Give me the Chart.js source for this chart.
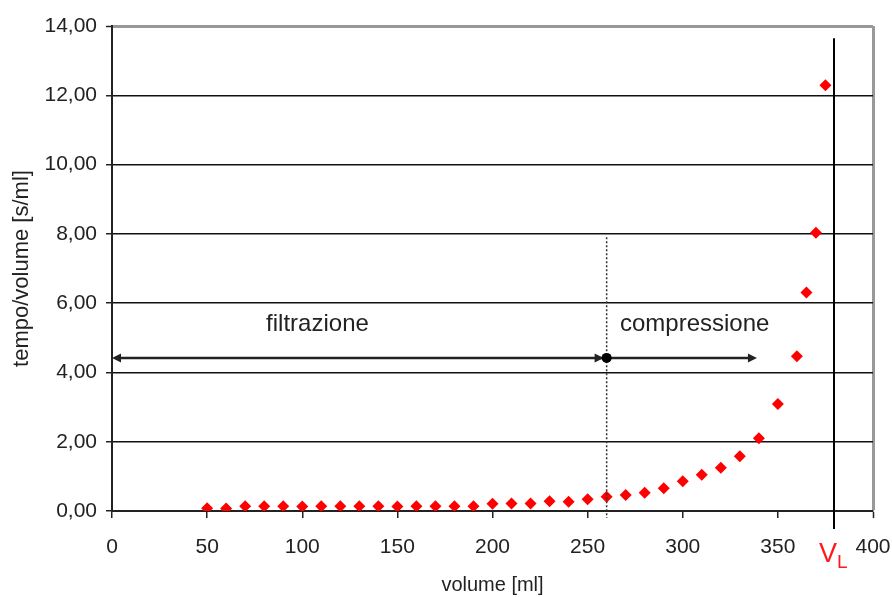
<!DOCTYPE html>
<html>
<head>
<meta charset="utf-8">
<script src="https://cdn.jsdelivr.net/npm/chart.js@4.4.1/dist/chart.umd.min.js"></script>
<style>
  html, body { margin: 0; padding: 0; background: #fff; }
  canvas { display: block; }
</style>
</head>
<body>
<canvas id="graph" width="892" height="597"></canvas>
<script>
// volume [ml] and tempo/volume [s/ml]
var volumes = [50, 60, 70, 80, 90, 100, 110, 120, 130, 140, 150, 160, 170, 180, 190,
               200, 210, 220, 230, 240, 250, 260, 270, 280, 290, 300, 310, 320, 330,
               340, 350, 360, 365, 370, 375];
var tempoVolume = [0.08, 0.07, 0.14, 0.14, 0.14, 0.13, 0.14, 0.14, 0.14, 0.14, 0.13, 0.14, 0.14, 0.14, 0.14,
                   0.21, 0.22, 0.22, 0.28, 0.27, 0.34, 0.41, 0.46, 0.53, 0.66, 0.86, 1.05, 1.25, 1.58,
                   2.10, 3.09, 4.47, 6.31, 8.03, 12.29];

var xTicks = [0, 50, 100, 150, 200, 250, 300, 350, 400];
var yTicks = [0, 2, 4, 6, 8, 10, 12, 14];
var yTickLabels = ['0,00', '2,00', '4,00', '6,00', '8,00', '10,00', '12,00', '14,00'];

// annotations (data units)
var limitVolume = 379.5;      // V_L
var limitTop = 13.65;
var phaseBoundary = 260;
var boundaryTop = 7.9;
var arrowLevel = 4.42;
var compressionEnd = 339;
var phaseNames = ['filtrazione', 'compressione'];
var phaseLabelX = [108, 267];
var phaseLabelY = 5.2;

var FONT = '"Liberation Sans", Arial, sans-serif';
var INK = '#222';

function arrowHead(ctx, x, y, dir) {
  ctx.beginPath();
  ctx.moveTo(x, y);
  ctx.lineTo(x - dir * 9, y - 4.5);
  ctx.lineTo(x - dir * 9, y + 4.5);
  ctx.closePath();
  ctx.fill();
}

var phaseMarks = {
  id: 'phaseMarks',
  afterDatasetsDraw: function (chart) {
    var ctx = chart.ctx;
    var xs = chart.scales.x, ys = chart.scales.y;
    ctx.save();

    // V_L line
    var vx = xs.getPixelForValue(limitVolume);
    ctx.strokeStyle = '#000';
    ctx.lineWidth = 2;
    ctx.beginPath();
    ctx.moveTo(vx, ys.getPixelForValue(limitTop));
    ctx.lineTo(vx, xs.top + 18);
    ctx.stroke();

    // dotted boundary
    var bx = xs.getPixelForValue(phaseBoundary);
    ctx.lineWidth = 1.5;
    ctx.strokeStyle = '#333';
    ctx.setLineDash([2, 2]);
    ctx.beginPath();
    ctx.moveTo(bx, ys.getPixelForValue(boundaryTop));
    ctx.lineTo(bx, xs.top + 7);
    ctx.stroke();
    ctx.setLineDash([]);

    // arrows
    var ay = ys.getPixelForValue(arrowLevel);
    var x0 = xs.getPixelForValue(0);
    var x2 = xs.getPixelForValue(compressionEnd);
    ctx.strokeStyle = INK;
    ctx.fillStyle = INK;
    ctx.lineWidth = 2.5;
    ctx.beginPath();
    ctx.moveTo(x0 + 4, ay);
    ctx.lineTo(x2 - 4, ay);
    ctx.stroke();
    arrowHead(ctx, x0, ay, -1);
    arrowHead(ctx, bx - 3, ay, 1);
    arrowHead(ctx, x2, ay, 1);
    ctx.fillStyle = '#000';
    ctx.beginPath();
    ctx.arc(bx, ay, 5, 0, Math.PI * 2);
    ctx.fill();

    // phase labels
    ctx.fillStyle = INK;
    ctx.font = '24px ' + FONT;
    ctx.textBaseline = 'alphabetic';
    ctx.textAlign = 'center';
    ctx.fillText(phaseNames[0], xs.getPixelForValue(phaseLabelX[0]), ys.getPixelForValue(phaseLabelY));
    ctx.textAlign = 'left';
    ctx.fillText(phaseNames[1], xs.getPixelForValue(phaseLabelX[1]), ys.getPixelForValue(phaseLabelY));

    // V_L label
    ctx.fillStyle = '#ff1a1a';
    ctx.font = '27px ' + FONT;
    ctx.textAlign = 'right';
    ctx.fillText('V', vx + 3, xs.top + 51);
    ctx.font = '19px ' + FONT;
    ctx.textAlign = 'left';
    ctx.fillText('L', vx + 3, xs.top + 57);

    ctx.restore();
  }
};

var graph = document.getElementById('graph');
new Chart(graph, {
  type: 'scatter',
  data: {
    datasets: [{
      label: 'tempo/volume',
      data: volumes.map(function (v, i) { return { x: v, y: tempoVolume[i] }; }),
      pointStyle: 'rectRot',
      pointRadius: 6,
      pointBackgroundColor: '#ff0000',
      pointBorderColor: '#ff0000',
      pointBorderWidth: 0
    }]
  },
  options: {
    responsive: false,
    animation: false,
    layout: { padding: { left: 0, top: 26, right: 19, bottom: 0 } },
    plugins: { legend: { display: false }, tooltip: { enabled: false } },
    scales: {
      x: {
        type: 'linear',
        min: 0,
        max: 400,
        afterBuildTicks: function (scale) { scale.ticks = xTicks.map(function (v) { return { value: v }; }); },
        afterFit: function (scale) {
          scale.height = 86;
          scale.paddingLeft = 0;
          scale.paddingRight = 0;
        },
        ticks: {
          color: INK,
          font: { family: FONT, size: 21 },
          padding: 17,
          maxRotation: 0,
          autoSkip: false
        },
        grid: {
          drawOnChartArea: true,
          color: function (c) { return c.tick && c.tick.value === 400 ? '#999' : 'rgba(0,0,0,0)'; },
          lineWidth: function (c) { return c.tick && c.tick.value === 400 ? 3 : 1.5; },
          tickColor: INK,
          tickWidth: 1.5,
          tickLength: 7
        },
        border: { display: true, color: INK, width: 2 },
        title: {
          display: true,
          text: 'volume [ml]',
          color: INK,
          font: { family: FONT, size: 20 },
          padding: { top: 0, bottom: 0 }
        }
      },
      y: {
        min: 0,
        max: 14,
        afterBuildTicks: function (scale) { scale.ticks = yTicks.map(function (v) { return { value: v }; }); },
        afterFit: function (scale) { scale.width = 112; },
        ticks: {
          color: INK,
          font: { family: FONT, size: 21 },
          padding: 9,
          callback: function (v) { return yTickLabels[yTicks.indexOf(v)]; }
        },
        grid: {
          color: function (c) { return c.tick && c.tick.value === 14 ? '#999' : '#111'; },
          lineWidth: function (c) { return c.tick && c.tick.value === 14 ? 3 : 1.5; },
          tickColor: INK,
          tickWidth: 1.5,
          tickLength: 6
        },
        border: { display: true, color: INK, width: 2 },
        title: {
          display: true,
          text: 'tempo/volume [s/ml]',
          color: INK,
          font: { family: FONT, size: 22 },
          padding: { top: 9, bottom: 0 }
        }
      }
    }
  },
  plugins: [phaseMarks]
});
</script>
</body>
</html>
